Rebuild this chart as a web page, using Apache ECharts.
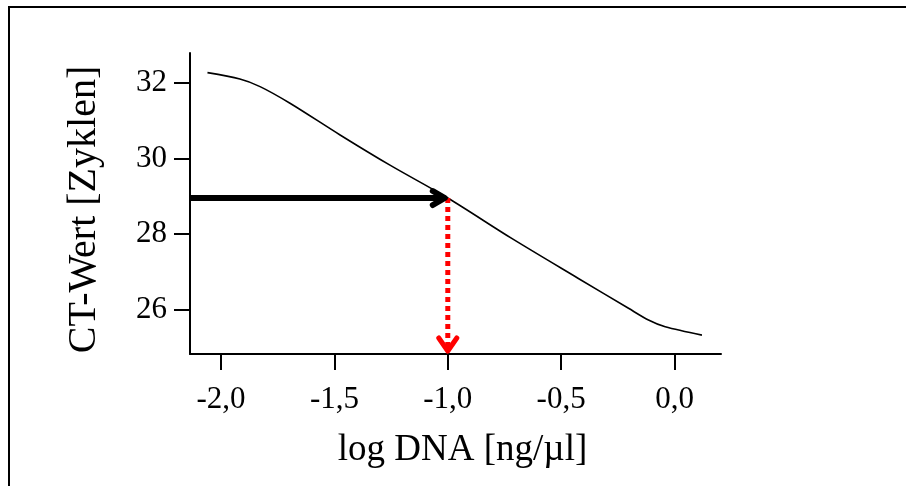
<!DOCTYPE html>
<html>
<head>
<meta charset="utf-8">
<script src="https://cdn.jsdelivr.net/npm/echarts@6/dist/echarts.min.js"></script>
<style>
  html, body { margin: 0; padding: 0; background: #fff; }
  #chart { width: 906px; height: 486px; }
</style>
</head>
<body>
<div id="chart"></div>
<script>
// Standardkurve: CT-Wert in Abhängigkeit von der DNA-Konzentration
const logDna = [-2.06, -1.917, -1.828, -1.696, -1.475, -1.255, -1.0, -0.718, -0.424, -0.203, -0.115, -0.041, 0.121];
const ctWert = [32.27, 32.10, 31.90, 31.46, 30.62, 29.82, 28.95, 27.88, 26.82, 26.03, 25.72, 25.54, 25.32];

// Ablesung: gemessener CT-Wert -> zugehöriger log-DNA-Wert
const ablesungLog = [-1.0];
const ablesungCt = [28.95];

// Achsenbeschriftungen
const xTicks = [-2.0, -1.5, -1.0, -0.5, 0.0];
const yTicks = [26, 28, 30, 32];

const X_MIN = -2.137, X_MAX = 0.205;
const Y_MIN = 24.82, Y_MAX = 32.79;
const serif = 'Liberation Serif';
const TICK_LEN = 16;

const kurve = logDna.map((x, i) => [x, ctWert[i]]);

// Pfeil (Schaft + winkelförmige Spitze) zwischen zwei Datenpunkten
function pfeil(stil) {
  return function (params, api) {
    const a = api.coord([api.value(0), api.value(1)]);
    const b = api.coord([api.value(2), api.value(3)]);
    const dx = b[0] - a[0], dy = b[1] - a[1];
    const len = Math.hypot(dx, dy) || 1;
    const ux = dx / len, uy = dy / len;      // Richtung
    const nx = -uy, ny = ux;                  // Normale
    const tip = [b[0] - ux * stil.rueck, b[1] - uy * stil.rueck];
    const basis = [tip[0] - ux * stil.spitzeL, tip[1] - uy * stil.spitzeL];
    const w1 = [basis[0] + nx * stil.spitzeB, basis[1] + ny * stil.spitzeB];
    const w2 = [basis[0] - nx * stil.spitzeB, basis[1] - ny * stil.spitzeB];
    const schaftEnde = [tip[0] - ux * stil.schaftKuerzung, tip[1] - uy * stil.schaftKuerzung];
    return {
      type: 'group',
      children: [
        {
          type: 'line',
          shape: { x1: a[0], y1: a[1], x2: schaftEnde[0], y2: schaftEnde[1] },
          style: { stroke: stil.farbe, lineWidth: stil.breite, lineDash: stil.strich, lineCap: 'butt' }
        },
        {
          type: 'polyline',
          shape: { points: [w1, tip, w2] },
          style: { stroke: stil.farbe, lineWidth: stil.kopfBreite, fill: 'none', lineJoin: 'round', lineCap: 'round' }
        }
      ]
    };
  };
}

const chart = echarts.init(document.getElementById('chart'), null, { renderer: 'canvas' });

const axisLineStyle = { color: '#000', width: 2 };

chart.setOption({
  animation: false,
  backgroundColor: '#fff',
  graphic: [{
    type: 'rect',
    silent: true,
    z: -10,
    shape: { x: 9, y: 7, width: 1000, height: 1000 },
    style: { fill: 'none', stroke: '#000', lineWidth: 2 }
  }],
  grid: { left: 190, top: 53, width: 531, height: 301 },
  xAxis: {
    type: 'value',
    min: X_MIN,
    max: X_MAX,
    name: 'log DNA [ng/µl]',
    nameLocation: 'middle',
    nameGap: 78,
    nameTextStyle: { fontFamily: serif, fontSize: 37, color: '#000', padding: [0, 0, 0, 14] },
    axisLine: { show: true, onZero: false, lineStyle: axisLineStyle },
    axisTick: { show: true, inside: false, length: TICK_LEN, lineStyle: axisLineStyle, customValues: xTicks },
    axisLabel: {
      customValues: xTicks,
      formatter: v => v.toFixed(1).replace('.', ','),
      fontFamily: serif, fontSize: 31, color: '#000', margin: 30
    },
    splitLine: { show: false }
  },
  yAxis: {
    type: 'value',
    min: Y_MIN,
    max: Y_MAX,
    name: 'CT-Wert [Zyklen]',
    nameLocation: 'middle',
    nameGap: 86,
    nameTextStyle: { fontFamily: serif, fontSize: 40, color: '#000', padding: [0, 12, 0, 0] },
    axisLine: { show: true, onZero: false, lineStyle: axisLineStyle },
    axisTick: { show: true, inside: false, length: TICK_LEN, lineStyle: axisLineStyle, customValues: yTicks },
    axisLabel: {
      customValues: yTicks,
      formatter: v => String(v),
      fontFamily: serif, fontSize: 31, color: '#000', margin: 23
    },
    splitLine: { show: false }
  },
  series: [
    {
      type: 'line',
      data: kurve,
      smooth: 0.3,
      showSymbol: false,
      silent: true,
      lineStyle: { color: '#000', width: 1.6 },
      z: 2
    },
    {
      // rot gepunkteter Pfeil nach unten zur x-Achse
      type: 'custom',
      silent: true,
      clip: false,
      z: 3,
      encode: { x: [0, 2], y: [1, 3] },
      renderItem: pfeil({
        farbe: '#ff0000', breite: 5, strich: [5, 4], kopfBreite: 5,
        rueck: 3, spitzeL: 13, spitzeB: 9, schaftKuerzung: 4
      }),
      data: [[ablesungLog[0], ablesungCt[0], ablesungLog[0], Y_MIN]]
    },
    {
      // schwarzer Pfeil von der y-Achse zur Kurve
      type: 'custom',
      silent: true,
      clip: false,
      z: 4,
      encode: { x: [0, 2], y: [1, 3] },
      renderItem: pfeil({
        farbe: '#000', breite: 6, strich: null, kopfBreite: 6,
        rueck: 3, spitzeL: 12, spitzeB: 7, schaftKuerzung: 3
      }),
      data: [[X_MIN, ablesungCt[0], ablesungLog[0], ablesungCt[0]]]
    }
  ]
});
</script>
</body>
</html>
